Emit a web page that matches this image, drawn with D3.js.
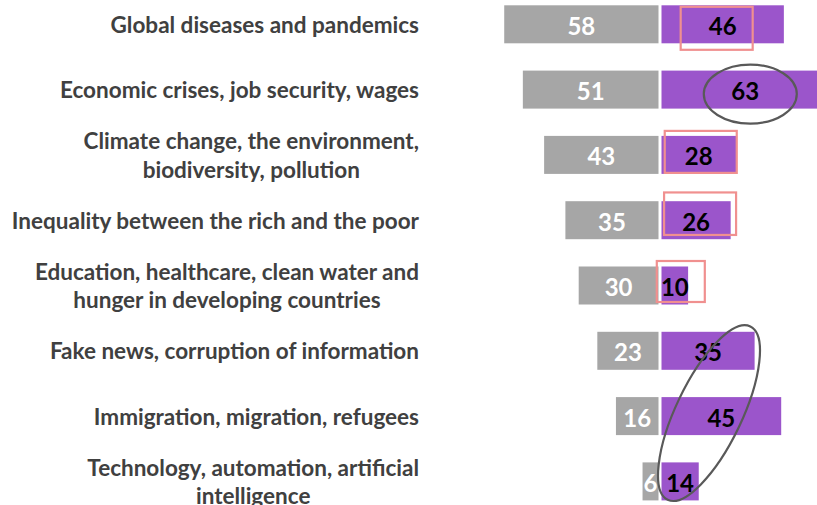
<!DOCTYPE html>
<html>
<head>
<meta charset="utf-8">
<script src="https://cdn.jsdelivr.net/npm/d3@7"></script>
<style>
  html, body { margin: 0; padding: 0; background: #ffffff; }
  svg { display: block; }
</style>
</head>
<body>
<svg id="chart" width="817" height="505"></svg>
<script>
// ---- data ----
const categories = [
  ["Global diseases and pandemics"],
  ["Economic crises, job security, wages"],
  ["Climate change, the environment,", "biodiversity, pollution"],
  ["Inequality between the rich and the poor"],
  ["Education, healthcare, clean water and", "hunger in developing countries"],
  ["Fake news, corruption of information"],
  ["Immigration, migration, refugees"],
  ["Technology, automation, artificial", "intelligence"]
];
const leftValues  = [58, 51, 43, 35, 30, 23, 16, 6];
const rightValues = [46, 63, 28, 26, 10, 35, 45, 14];
// highlighted right-hand values (boxes) and circled ones
const boxedRows = [0, 2, 3, 4];
const circledRow = 1;
const groupCircledRows = [5, 6, 7];

// ---- layout ----
const W = 817, H = 505;
const grayEnd = 658.5, purpleStart = 661.5;
const labelRight = 419;
const catFont = "Lato, 'Open Sans', sans-serif";

const svg = d3.select("#chart");
const keys = categories.map((c, i) => i);

const x = d3.scaleLinear().domain([0, 100]).range([0, 266]);
const y = d3.scaleBand().domain(keys).range([5.3, 5.3 + 7 * 65.3 + 38]).paddingInner(0.418).paddingOuter(0);
const bw = y.bandwidth();
const yc = i => y(i) + bw / 2;

const grayColor = "#a6a6a6", purpleColor = "#9b55cb";

// gray (left) bars
svg.append("g").selectAll("rect").data(leftValues).join("rect")
  .attr("x", d => grayEnd - x(d))
  .attr("y", (d, i) => y(i))
  .attr("width", d => x(d))
  .attr("height", bw)
  .attr("fill", grayColor);

// purple (right) bars
svg.append("g").selectAll("rect").data(rightValues).join("rect")
  .attr("x", purpleStart)
  .attr("y", (d, i) => y(i))
  .attr("width", d => x(d))
  .attr("height", bw)
  .attr("fill", purpleColor);

// gray value labels (white)
svg.append("g").selectAll("text").data(leftValues).join("text")
  .attr("x", d => grayEnd - x(d) / 2)
  .attr("y", (d, i) => yc(i) + 1)
  .attr("text-anchor", "middle")
  .attr("dominant-baseline", "central")
  .attr("font-family", catFont)
  .attr("font-weight", 700)
  .attr("font-size", 24)
  .attr("fill", "#ffffff")
  .text(d => d);

// purple value labels (black)
svg.append("g").selectAll("text").data(rightValues).join("text")
  .attr("x", d => purpleStart + x(d) / 2)
  .attr("y", (d, i) => yc(i) + 1)
  .attr("text-anchor", "middle")
  .attr("dominant-baseline", "central")
  .attr("font-family", catFont)
  .attr("font-weight", 700)
  .attr("font-size", 24)
  .attr("fill", "#000000")
  .text(d => d);

// category labels: block right-aligned, lines centered within block
const catSize = 22.5;
const lineGap = 28.5;
const catG = svg.append("g");
categories.forEach((lines, i) => {
  const g = catG.append("g");
  const texts = lines.map((ln, k) => g.append("text")
    .attr("y", yc(i) + (k - (lines.length - 1) / 2) * lineGap)
    .attr("text-anchor", "middle")
    .attr("dominant-baseline", "central")
    .attr("font-family", catFont)
    .attr("font-weight", 700)
    .attr("font-size", catSize)
    .attr("fill", "#404040")
    .text(ln));
  const maxW = d3.max(texts, t => t.node().getComputedTextLength());
  texts.forEach(t => t.attr("x", labelRight - maxW / 2));
});

// ---- annotations ----
const ann = svg.append("g").attr("fill", "none");
const boxSpec = { 0: [-6, 4, 72, 43], 2: [2, -3, 72, 42], 3: [4, -6.5, 72, 42.5], 4: [6, -4, 48, 41] };
boxedRows.forEach(i => {
  const [dx, dy, w, h] = boxSpec[i];
  const cx = purpleStart + x(rightValues[i]) / 2 + dx;
  const cy = yc(i) + dy;
  ann.append("rect")
    .attr("x", cx - w / 2).attr("y", cy - h / 2)
    .attr("width", w).attr("height", h)
    .attr("stroke", "#f0908f").attr("stroke-width", 2.2);
});

ann.append("ellipse")
  .attr("cx", purpleStart + x(rightValues[circledRow]) / 2 + 5)
  .attr("cy", yc(circledRow) + 4.5)
  .attr("rx", 46.5).attr("ry", 29.5)
  .attr("stroke", "#595959").attr("stroke-width", 2.2);

const gcx = purpleStart + 47.5;
const gcy = d3.mean(groupCircledRows, r => yc(r)) - 3;
ann.append("ellipse")
  .attr("cx", 0).attr("cy", 0)
  .attr("rx", 96).attr("ry", 33)
  .attr("transform", `translate(${gcx},${gcy}) rotate(-64.5)`)
  .attr("stroke", "#595959").attr("stroke-width", 2.2);
</script>
</body>
</html>
